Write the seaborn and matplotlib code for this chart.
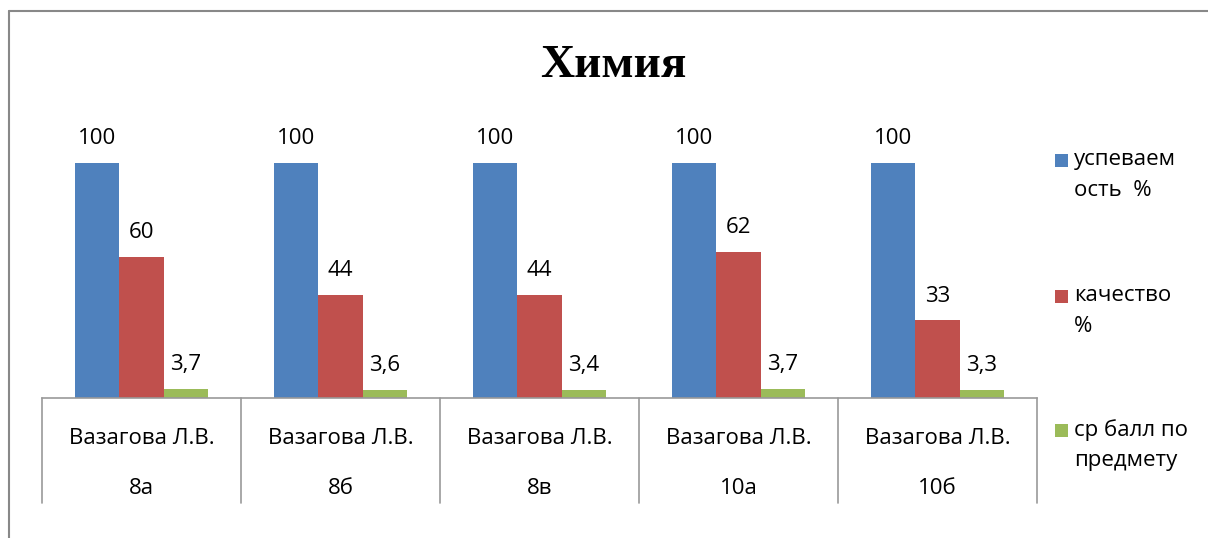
import seaborn as sns
import pandas as pd
import matplotlib.pyplot as plt
from matplotlib.lines import Line2D
from matplotlib.patches import Rectangle

teacher = 'Вазагова Л.В.'
classes = ['8а', '8б', '8в', '10а', '10б']
series = ['успеваем\nость  %', 'качество\n%', 'ср балл по\nпредмету']
uspev = [100, 100, 100, 100, 100]
kachestvo = [60, 44, 44, 62, 33]
sr_ball = [3.7, 3.6, 3.4, 3.7, 3.3]
colors = ['#4F81BD', '#C0504D', '#9BBB59']

rows = []
for i, c in enumerate(classes):
    for s, vals in zip(series, [uspev, kachestvo, sr_ball]):
        rows.append({'класс': c, 'ряд': s, 'значение': vals[i]})
df = pd.DataFrame(rows)

sns.set_style('white')
plt.rcParams['font.family'] = ['Open Sans', 'DejaVu Sans']
plt.rcParams['text.color'] = 'black'

W, H = 1208, 538
fig = plt.figure(figsize=(W / 100, H / 100), dpi=100)
ax = fig.add_axes([42 / W, 140 / H, 995 / W, 282 / H])

sns.barplot(data=df, x='класс', y='значение', hue='ряд', palette=colors,
            width=0.665, gap=0, ax=ax, legend=False, saturation=1, linewidth=0)

def fmt(v):
    return str(v).replace('.', ',') if v != int(v) else str(int(v))

for cont in ax.containers:
    ax.bar_label(cont, labels=[fmt(b.get_height()) for b in cont],
                 padding=10, fontsize=16, color='black')

ax.set_ylim(0, 120)
ax.set_xlim(-0.5, len(classes) - 0.5)
ax.set_yticks([])
ax.set_xticks([])
ax.set_xlabel('')
ax.set_ylabel('')
for sp in ['top', 'right', 'left']:
    ax.spines[sp].set_visible(False)
ax.spines['bottom'].set_color('#999999')
ax.spines['bottom'].set_linewidth(1.2)

# двухуровневая подпись оси категорий
tr = ax.get_xaxis_transform()
for i in range(len(classes) + 1):
    ax.plot([i - 0.5, i - 0.5], [0, -0.372], transform=tr, color='#999999',
            lw=1.2, clip_on=False)
for i, c in enumerate(classes):
    ax.text(i, -0.145, teacher, transform=tr, ha='center', va='center',
            fontsize=16, color='black', clip_on=False)
    ax.text(i, -0.322, c, transform=tr, ha='center', va='center',
            fontsize=16, color='black', clip_on=False)

fig.text(613 / W, 1 - 66 / H, 'Химия', ha='center', va='center',
         fontsize=34, fontweight='bold', family='Liberation Serif', color='black')

# легенда: квадрат выровнен по первой строке подписи
leg_y = [160, 296, 430]
for col, lab, yc in zip(colors, series, leg_y):
    fig.add_artist(Rectangle((1055 / W, 1 - (yc + 6.5) / H), 13 / W, 13 / H,
                             facecolor=col, edgecolor='none', transform=fig.transFigure))
    fig.text(1074 / W, 1 - (yc - 11) / H, lab, ha='left', va='top',
             fontsize=16, linespacing=1.6, color='black')

# рамка области диаграммы
fig.add_artist(Line2D([9 / W, 1], [1 - 11 / H, 1 - 11 / H], color='#888888', lw=1.5))
fig.add_artist(Line2D([9 / W, 9 / W], [0, 1 - 11 / H], color='#888888', lw=1.5))

fig.savefig('out.png', dpi=100)
